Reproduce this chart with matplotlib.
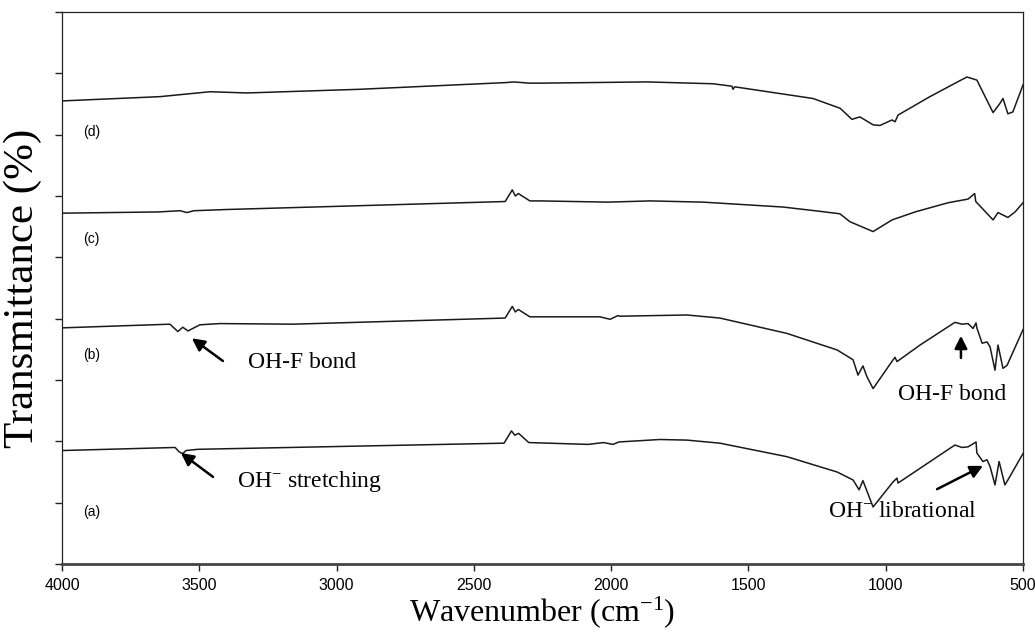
import matplotlib
matplotlib.use("Agg")
import matplotlib.pyplot as plt

plt.rcParams['mathtext.fontset'] = 'custom'
plt.rcParams['mathtext.rm'] = 'Liberation Serif'
plt.rcParams['mathtext.it'] = 'Liberation Serif:italic'

# ---- data (wavenumber cm-1, transmittance in arbitrary stacked units) ----
wn_a = [4000, 3588, 3574, 3561, 3548, 3505, 3170, 2390, 2363, 2351, 2337, 2300,
        2084, 2028, 1993, 1972, 1822, 1724, 1604, 1360, 1177, 1119, 1097, 1083,
        1065, 1046, 973, 959, 955, 875, 748, 722, 700, 671, 668, 646, 631, 620,
        602, 587, 566, 555, 500]
t_a = [18.5, 19.0, 18.3, 18.0, 18.5, 18.7, 19.0, 19.7, 21.7, 21.0, 21.3, 19.8,
       19.5, 19.8, 19.5, 19.9, 20.3, 20.2, 19.7, 17.5, 15.0, 13.7, 12.1, 13.6,
       11.5, 9.3, 13.4, 14.0, 13.2, 15.6, 19.4, 19.0, 19.1, 19.9, 18.1, 16.7,
       17.0, 15.9, 12.9, 16.7, 12.9, 13.7, 18.0]

wn_b = [4000, 3607, 3578, 3560, 3541, 3498, 3425, 3159, 2386, 2360, 2349, 2338,
        2296, 2259, 2041, 2004, 1975, 1968, 1724, 1604, 1360, 1177, 1119, 1101,
        1083, 1068, 1046, 973, 966, 959, 875, 748, 722, 700, 682, 671, 668, 649,
        631, 620, 602, 591, 573, 558, 500]
t_b = [38.5, 39.1, 37.9, 38.6, 38.0, 39.0, 39.2, 39.1, 40.1, 42.0, 41.1, 41.5,
       40.3, 40.3, 40.3, 39.9, 40.5, 40.4, 40.6, 40.1, 37.6, 34.9, 33.3, 30.8,
       32.3, 30.5, 28.6, 33.3, 33.7, 33.0, 35.7, 39.4, 39.1, 39.2, 38.4, 39.3,
       38.5, 36.0, 36.2, 35.4, 31.6, 35.7, 31.9, 32.4, 38.2]

wn_c = [4000, 3650, 3570, 3545, 3520, 3399, 2386, 2360, 2349, 2338, 2296, 2259,
        2011, 1858, 1665, 1374, 1239, 1167, 1130, 1046, 977, 893, 773, 700, 676,
        672, 609, 591, 573, 555, 529, 500]
t_c = [57.2, 57.4, 57.6, 57.3, 57.6, 57.8, 59.1, 61.0, 60.0, 60.4, 59.2, 59.2,
       59.0, 59.2, 59.0, 58.2, 57.5, 57.1, 55.8, 54.2, 56.1, 57.4, 58.9, 59.5,
       60.4, 59.1, 56.1, 57.3, 56.9, 56.5, 57.4, 58.9]

wn_d = [4000, 3643, 3461, 3326, 2915, 2379, 2357, 2296, 2259, 1869, 1629, 1560,
        1556, 1550, 1265, 1166, 1123, 1094, 1046, 1021, 977, 966, 955, 839, 730,
        704, 668, 609, 584, 573, 555, 537, 500]
t_d = [75.5, 76.2, 77.0, 76.8, 77.4, 78.5, 78.6, 78.4, 78.4, 78.6, 78.3, 77.9,
       77.4, 77.8, 75.9, 74.3, 72.5, 72.9, 71.6, 71.5, 72.4, 72.1, 73.2, 76.2,
       78.8, 79.4, 78.9, 73.6, 75.1, 75.9, 73.4, 73.7, 78.1]

series = [(wn_a, t_a), (wn_b, t_b), (wn_c, t_c), (wn_d, t_d)]
curve_labels = ['(a)', '(b)', '(c)', '(d)']
label_y = [8.5, 34.1, 53.0, 70.4]
x_ticks = [4000, 3500, 3000, 2500, 2000, 1500, 1000, 500]

fig = plt.figure(figsize=(10.35, 6.35), dpi=100)
ax = fig.add_axes([62/1035, 71/635, 961/1035, 552/635])

for wn, t in series:
    ax.plot(wn, t, color='#1a1a1a', lw=1.1)

ax.set_xlim(4000, 500)
ax.set_ylim(0, 90)
ax.set_xticks(x_ticks)
ax.set_xticklabels([str(v) for v in x_ticks], fontfamily='Liberation Sans', fontsize=11.5)
ax.set_yticks(range(0, 91, 10))
ax.set_yticklabels([])
ax.tick_params(axis='both', direction='out', length=5, width=1, color='#222222')
ax.tick_params(axis='x', pad=5)

for s in ['left', 'top', 'right']:
    ax.spines[s].set_linewidth(0.9)
    ax.spines[s].set_color('#222222')
ax.spines['bottom'].set_linewidth(2.0)
ax.spines['bottom'].set_color('#444444')

for lab, y in zip(curve_labels, label_y):
    ax.text(3924, y, lab, fontfamily='Liberation Sans', fontsize=10, ha='left', va='center')

ax.set_xlabel(r'Wavenumber (cm$^{\mathregular{-1}}$)', fontfamily='Liberation Serif',
              fontsize=23, labelpad=1)
ax.set_ylabel('Transmittance (%)', fontfamily='Liberation Serif', fontsize=31, labelpad=6)

arrow = dict(arrowstyle='-|>,head_length=0.75,head_width=0.38', color='black', lw=1.8,
             shrinkA=0, shrinkB=0)
tfont = dict(fontfamily='Liberation Serif', fontsize=17, va='center', ha='left')

ax.annotate('', xy=(3527, 36.8), xytext=(3414, 33.1), arrowprops=arrow)
ax.text(3323, 32.8, 'OH-F bond', **tfont)

ax.annotate('', xy=(3567, 18.1), xytext=(3450, 14.2), arrowprops=arrow)
ax.text(3363, 13.4, r'OH$^{\mathregular{-}}$ stretching', **tfont)

ax.annotate('', xy=(726, 37.2), xytext=(726, 33.6), arrowprops=arrow)
ax.text(955, 27.6, 'OH-F bond', **tfont)

ax.annotate('', xy=(646, 16.0), xytext=(813, 12.2), arrowprops=arrow)
ax.text(1210, 8.5, r'OH$^{\mathregular{-}}$ librational', **tfont)

fig.savefig('out.png', dpi=100)
